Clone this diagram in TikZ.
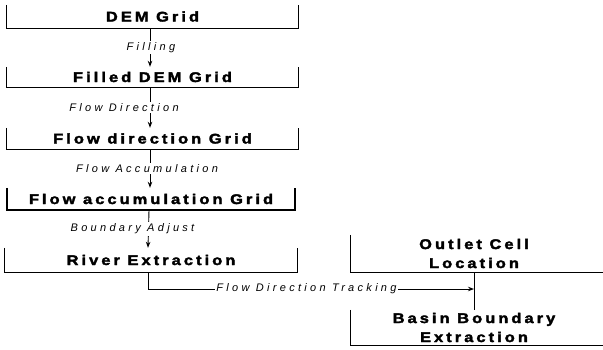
\documentclass[tikz,border=0pt]{standalone}
\usepackage{fontspec}
\usetikzlibrary{arrows.meta}
% heavy, widely tracked sans for the step boxes
\newfontfamily\boxfont[FakeStretch=1.17,FakeBold=2.5,LetterSpace=22]{Liberation Sans}
% tracked italic sans for the operation labels
\newfontfamily\labfont[LetterSpace=30]{Liberation Sans}

\tikzset{
  stepbox/.style={inner sep=0pt, align=center,
    font=\boxfont\bfseries\fontsize{14}{19}\selectfont},
  oplabel/.style={fill=white, inner sep=1.5pt,
    font=\labfont\itshape\fontsize{11}{12}\selectfont},
  link/.style={line width=0.9pt},
  arr/.style={link, -{Stealth[length=6pt,width=4.5pt]}},
  frame/.style={line width=0.9pt},
}
% open-topped bracket around a step box
\newcommand\openbox[2][]{%
  \draw[frame,#1] (#2.north west) -- (#2.south west) -- (#2.south east) -- (#2.north east);}

\begin{document}
\begin{tikzpicture}[x=1pt,y=-1pt]
\useasboundingbox (0,0) rectangle (603,349);
\coordinate (edge) at (603,0);

% main chain of grids
\node[stepbox, minimum width=291, minimum height=23] (dem)    at (152.5,16.5) {DEM Grid};
\node[stepbox, minimum width=291, minimum height=20] (filled) at (152.5,77)   {Filled DEM Grid};
\node[stepbox, minimum width=291, minimum height=21] (fdir)   at (152.5,138.5){Flow direction Grid};
\node[stepbox, minimum width=288, minimum height=22] (facc)   at (151,199)    {Flow accumulation Grid};
\node[stepbox, minimum width=292, minimum height=24] (river)  at (151,260)    {River Extraction};

\openbox{dem}
\openbox{filled}
\openbox{fdir}
\openbox[line width=1.6pt]{facc}
\openbox{river}

% basin branch
\node[stepbox, minimum width=246, minimum height=37] (outlet) at (474,253.5) {Outlet Cell\\Location};
\node[stepbox, minimum width=246, minimum height=35] (basin)  at (474,327.5) {Basin Boundary\\Extraction};
\draw[frame] (outlet.north west) -- (outlet.south west) -- (outlet.south west -| edge);
\draw[frame] (basin.north west) -- (basin.south west) -- (basin.south west -| edge);

% operations between grids
\draw[arr] ([xshift=-2.5pt]dem.south) -- node[oplabel, xshift=1pt] {Filling} ([xshift=-2.5pt]filled.north);
\draw[arr] ([xshift=-2.5pt]filled.south) -- node[oplabel, xshift=-26pt] {Flow Direction} ([xshift=-2.5pt]fdir.north);
\draw[arr] ([xshift=-2.5pt]fdir.south) -- node[oplabel, xshift=-3pt] {Flow Accumulation} ([xshift=-1pt]facc.north);
\draw[arr] ([xshift=-2pt]facc.south) -- node[oplabel, xshift=-16pt] {Boundary Adjust} ([xshift=-3pt]river.north);

% tracking from the river network to the outlet
\node[oplabel] (track) at (306.5,289) {Flow Direction Tracking};
\draw[link] (outlet.south) -- (basin.north);
\draw[link] ([xshift=-3pt]river.south) |- (track.west);
\draw[arr] (track.east) -- (track.east -| outlet.south);
\end{tikzpicture}
\end{document}
